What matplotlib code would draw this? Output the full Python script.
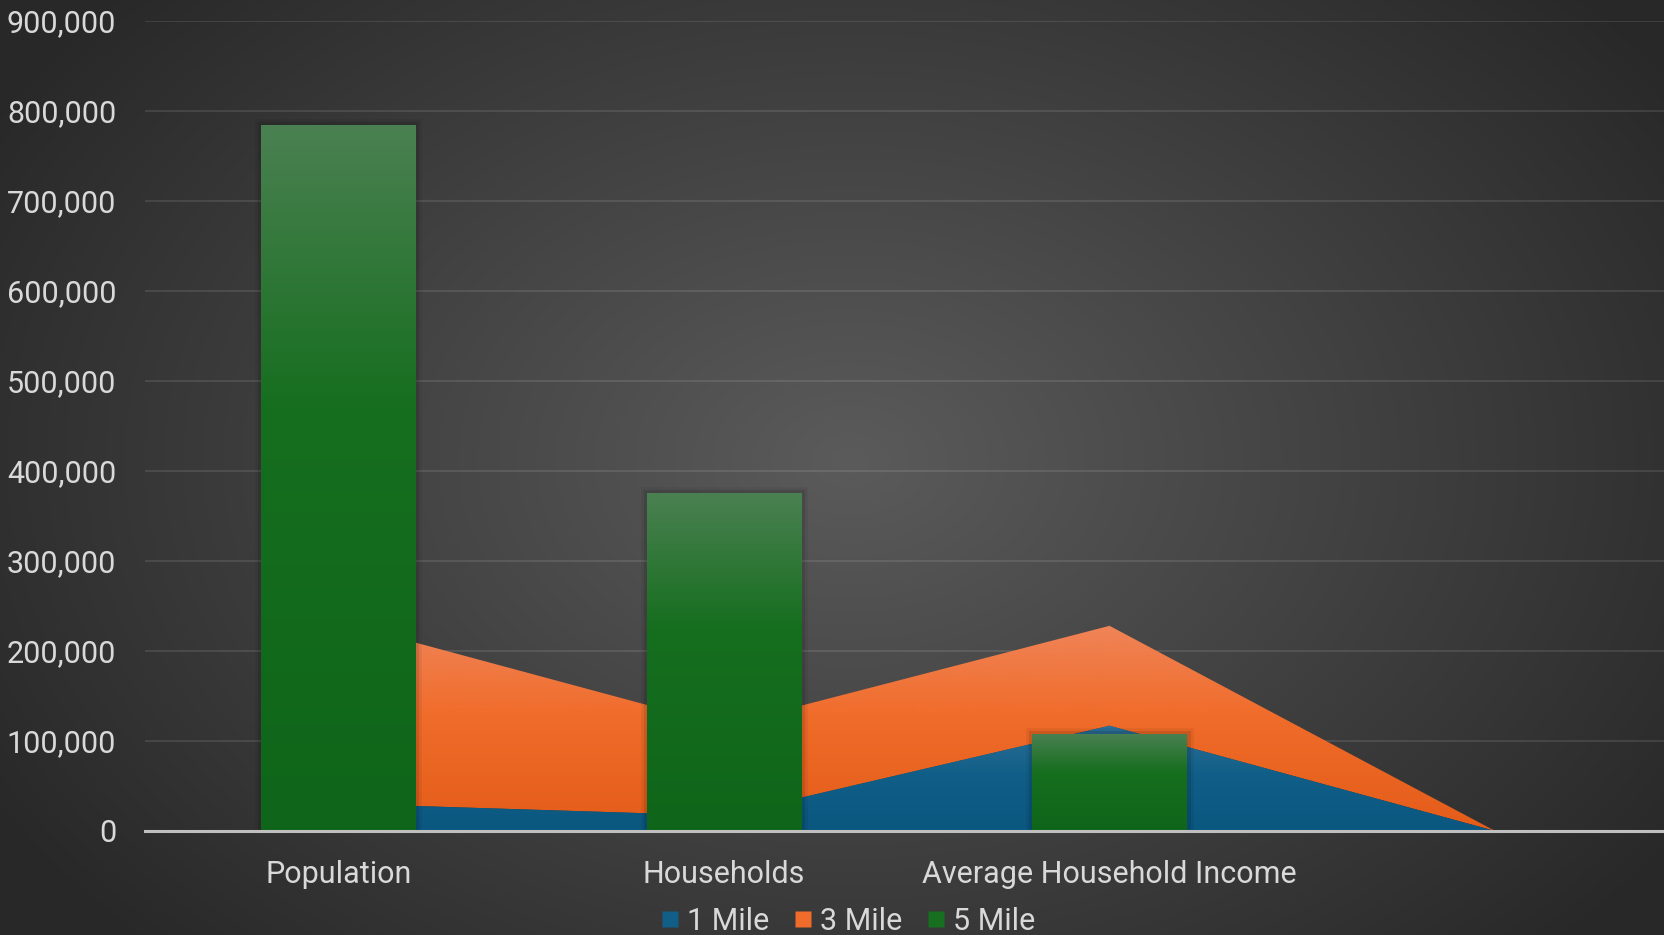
import numpy as np
import matplotlib.pyplot as plt
from matplotlib.colors import LinearSegmentedColormap
from matplotlib.patches import Polygon
from matplotlib.lines import Line2D
import matplotlib.patheffects as pe

categories = ["Population", "Households", "Average Household Income", ""]
mile1 = [30500, 17000, 117000, 0]
mile3 = [202000, 100000, 111000, 0]
mile5 = [785000, 376000, 108000]
yticks = np.arange(0, 900001, 100000)
series_names = ["1 Mile", "3 Mile", "5 Mile"]

plt.rcParams['font.family'] = ['Roboto', 'DejaVu Sans']
text_c = '#d9d9d9'
fs = 22

blue_g = [(0, '#2f7098'), (0.45, '#115f88'), (1, '#0a5780')]
orange_g = [(0, '#f0855a'), (0.45, '#f06c2a'), (1, '#e45c19')]
green_g = [(0, '#4b8152'), (0.4, '#166e1f'), (1, '#0f661a')]

fig = plt.figure(figsize=(16.64, 9.35), dpi=100)

# radial background
bg = fig.add_axes([0, 0, 1, 1], zorder=-10)
h, w = 935, 1664
yy, xx = np.mgrid[0:h, 0:w]
r = np.sqrt(((xx - 850) / 1000.0) ** 2 + ((yy - 460) / 700.0) ** 2)
r = np.clip(r, 0, 1)
img = (0x5b + (0x28 - 0x5b) * r) / 255.0
bg.imshow(np.dstack([img] * 3), aspect='auto', extent=[0, 1, 0, 1], origin='upper')
bg.axis('off')

ax = fig.add_axes([145.4 / 1664, 1 - 831 / 935, (1688 - 145.4) / 1664, (831 - 21) / 935])
ax.set_facecolor('none')
x = np.arange(len(categories))


def grad_image(poly, x0, x1, y0, y1, stops, z):
    cmap = LinearSegmentedColormap.from_list('g', stops)
    grad = np.linspace(0, 1, 256).reshape(-1, 1)
    im = ax.imshow(grad, cmap=cmap, aspect='auto', origin='upper',
                   extent=[x0, x1, y0, y1], zorder=z, interpolation='bicubic')
    im.set_clip_path(poly)


# stacked areas
lower = np.array(mile1, dtype=float)
upper = lower + np.array(mile3)
xs = x.astype(float)
poly1 = Polygon(list(zip(xs, lower)) + [(xs[-1], 0), (xs[0], 0)], closed=True,
                facecolor='none', edgecolor='none')
poly3 = Polygon(list(zip(xs, upper)) + list(zip(xs[::-1], lower[::-1])), closed=True,
                facecolor='none', edgecolor='none')
ax.add_patch(poly1)
ax.add_patch(poly3)
grad_image(poly3, xs[0], xs[-1], 0, upper.max(), orange_g, 1)
grad_image(poly1, xs[0], xs[-1], 0, lower.max(), blue_g, 1.1)

# bars
bars = ax.bar(x[:len(mile5)], mile5, width=0.4, color='#137020', zorder=2,
              path_effects=[pe.Stroke(linewidth=9, foreground='black', alpha=0.06),
                            pe.Stroke(linewidth=5, foreground='black', alpha=0.1),
                            pe.Normal()])
for b in bars:
    grad_image(b, b.get_x(), b.get_x() + b.get_width(), 0, b.get_height(), green_g, 2.1)

ax.set_xlim(-0.5, 3.5)
ax.set_ylim(0, 900000)
ax.set_yticks(yticks)
ax.set_yticklabels([f"{v:,}" for v in yticks])
ax.set_xticks(x)
ax.set_xticklabels(categories)
ax.tick_params(axis='both', length=0, labelsize=fs, labelcolor=text_c)
ax.tick_params(axis='y', pad=21)
ax.tick_params(axis='x', pad=21)
ax.grid(axis='y', color='white', alpha=0.1, linewidth=1.5, zorder=0)
ax.set_axisbelow(True)
for s in ['top', 'right', 'left']:
    ax.spines[s].set_visible(False)
ax.spines['bottom'].set_color('#bfbfbf')
ax.spines['bottom'].set_linewidth(2.2)
ax.spines['bottom'].set_zorder(3)

handles = [Line2D([], [], marker='s', ls='none', markersize=11.5,
                  markerfacecolor=c, markeredgecolor='none')
           for c in ['#115f88', '#f06c2a', '#17701f']]
fig.legend(handles, series_names, loc='center', bbox_to_anchor=(848 / 1664, 1 - 921 / 935),
           ncol=3, frameon=False, fontsize=fs, labelcolor=text_c,
           handlelength=0.6, handletextpad=0.25, columnspacing=0.8, borderpad=0)

fig.savefig("out.png", dpi=100)
